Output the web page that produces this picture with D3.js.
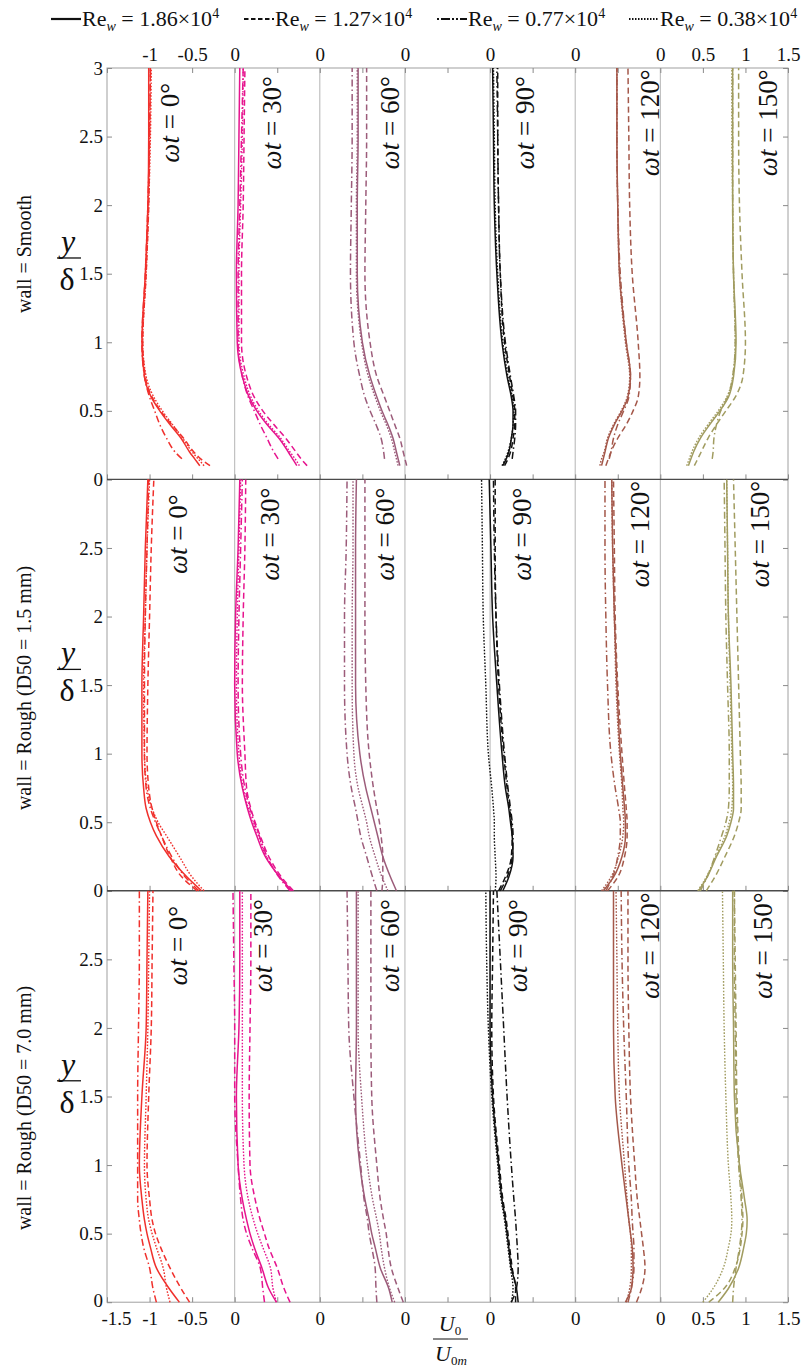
<!DOCTYPE html>
<html>
<head>
<meta charset="utf-8">
<script src="https://cdn.jsdelivr.net/npm/d3@7"></script>
<style>
  body { margin: 0; background: #fff; }
  svg text { font-family: "Liberation Serif", "Times New Roman", serif !important; fill: #111; }
</style>
</head>
<body>
<svg id="chart" width="810" height="1369"></svg>
<script>
// ---- categories ----
const phases = [0, 30, 60, 90, 120, 150];
const walls = ["wall = Smooth", "wall = Rough (D50 = 1.5 mm)", "wall = Rough (D50 = 7.0 mm)"];
const reynolds = ["1.86", "1.27", "0.77", "0.38"];
const phaseColors = ["#f0302c", "#e6148e", "#9c5c7a", "#111111", "#a4584a", "#a19c60"];

// ---- y/delta levels of the sampled profiles ----
const ySmooth = [0.1, 0.15, 0.2, 0.3, 0.4, 0.5, 0.6, 0.75, 1, 1.5, 2, 2.5, 3];
const yRough  = [0, 0.1, 0.25, 0.4, 0.5, 0.6, 0.75, 1, 1.5, 2, 2.5, 3];

// ---- U0/U0m profiles, series order: Re_w = 1.86, 1.27, 0.77, 0.38 (x10^4) ----
// smooth wall
const smooth_0 = [
  [-0.41,-0.47,-0.53,-0.63,-0.76,-0.88,-0.98,-1.06,-1.09,-1.05,-1.02,-1.01,-1.01],
  [-0.29,-0.40,-0.48,-0.60,-0.74,-0.87,-0.97,-1.05,-1.08,-1.04,-1.01,-1.00,-0.99],
  [null,-0.62,-0.70,-0.80,-0.88,-0.94,-1.00,-1.06,-1.09,-1.05,-1.02,-1.00,-0.99],
  [-0.36,-0.43,-0.50,-0.61,-0.73,-0.85,-0.95,-1.04,-1.08,-1.04,-1.01,-0.99,-0.98]];
const smooth_30 = [
  [-0.27,-0.32,-0.37,-0.48,-0.62,-0.74,-0.83,-0.91,-0.97,-0.98,-0.96,-0.95,-0.94],
  [-0.15,-0.22,-0.28,-0.40,-0.54,-0.67,-0.77,-0.86,-0.92,-0.92,-0.90,-0.89,-0.88],
  [null,-0.49,-0.54,-0.62,-0.70,-0.77,-0.84,-0.91,-0.96,-0.96,-0.94,-0.92,-0.90],
  [-0.24,-0.29,-0.35,-0.46,-0.60,-0.72,-0.81,-0.89,-0.95,-0.95,-0.93,-0.91,-0.90]];
const smooth_60 = [
  [-0.06,-0.08,-0.10,-0.14,-0.20,-0.27,-0.33,-0.41,-0.50,-0.56,-0.56,-0.55,-0.55],
  [0.02,0.00,-0.02,-0.06,-0.12,-0.18,-0.24,-0.33,-0.41,-0.47,-0.46,-0.45,-0.45],
  [null,-0.24,-0.25,-0.28,-0.34,-0.41,-0.47,-0.53,-0.60,-0.64,-0.63,-0.62,-0.62],
  [-0.08,-0.10,-0.12,-0.16,-0.22,-0.29,-0.35,-0.43,-0.51,-0.57,-0.57,-0.56,-0.56]];
const smooth_90 = [
  [0.15,0.19,0.22,0.25,0.27,0.27,0.25,0.20,0.14,0.08,0.05,0.04,0.03],
  [0.17,0.21,0.24,0.27,0.29,0.29,0.27,0.23,0.17,0.12,0.10,0.09,0.09],
  [null,0.26,0.27,0.29,0.30,0.30,0.28,0.24,0.18,0.12,0.10,0.09,0.08],
  [0.14,0.18,0.21,0.25,0.27,0.28,0.26,0.21,0.15,0.09,0.06,0.05,0.04]];
const smooth_120 = [
  [0.31,0.33,0.35,0.39,0.46,0.55,0.62,0.65,0.60,0.52,0.50,0.49,0.49],
  [0.36,0.39,0.42,0.50,0.60,0.68,0.74,0.76,0.74,0.67,0.64,0.63,0.62],
  [null,0.40,0.42,0.45,0.50,0.57,0.63,0.65,0.60,0.53,0.50,0.49,0.49],
  [0.29,0.31,0.34,0.38,0.45,0.54,0.61,0.64,0.59,0.52,0.50,0.49,0.49]];
const smooth_150 = [
  [0.33,0.36,0.39,0.47,0.58,0.70,0.80,0.86,0.89,0.86,0.85,0.85,0.85],
  [0.40,0.44,0.48,0.56,0.66,0.77,0.88,0.97,1.00,0.96,0.93,0.92,0.92],
  [null,0.61,0.62,0.63,0.66,0.71,0.79,0.85,0.88,0.86,0.85,0.85,0.85],
  [0.31,0.34,0.37,0.45,0.56,0.68,0.78,0.85,0.88,0.86,0.85,0.84,0.84]];

// rough wall, D50 = 1.5 mm
const rough15_0 = [
  [-0.39,-0.56,-0.77,-0.92,-0.99,-1.04,-1.07,-1.09,-1.09,-1.07,-1.05,-1.02],
  [-0.44,-0.62,-0.76,-0.86,-0.92,-0.97,-1.01,-1.03,-1.02,-1.00,-0.98,-0.95],
  [-0.42,-0.58,-0.74,-0.86,-0.93,-0.99,-1.04,-1.06,-1.06,-1.05,-1.03,-1.01],
  [-0.36,-0.50,-0.65,-0.80,-0.90,-0.97,-1.03,-1.06,-1.07,-1.05,-1.03,-1.00]];
const rough15_30 = [
  [-0.33,-0.47,-0.64,-0.74,-0.80,-0.85,-0.91,-0.97,-1.00,-0.99,-0.96,-0.94],
  [-0.31,-0.45,-0.60,-0.70,-0.76,-0.81,-0.86,-0.88,-0.91,-0.90,-0.88,-0.87],
  [-0.35,-0.48,-0.62,-0.71,-0.77,-0.82,-0.88,-0.93,-0.96,-0.95,-0.93,-0.91],
  [-0.34,-0.47,-0.63,-0.72,-0.79,-0.84,-0.90,-0.95,-0.98,-0.97,-0.95,-0.93]];
const rough15_60 = [
  [-0.10,-0.17,-0.26,-0.32,-0.36,-0.40,-0.46,-0.53,-0.58,-0.58,-0.58,-0.57],
  [-0.27,-0.26,-0.26,-0.28,-0.30,-0.33,-0.37,-0.42,-0.46,-0.47,-0.47,-0.47],
  [-0.33,-0.38,-0.45,-0.52,-0.55,-0.58,-0.63,-0.68,-0.71,-0.71,-0.69,-0.68],
  [-0.20,-0.27,-0.35,-0.42,-0.45,-0.49,-0.55,-0.60,-0.62,-0.62,-0.61,-0.61]];
const rough15_90 = [
  [0.15,0.22,0.27,0.26,0.24,0.22,0.18,0.14,0.08,0.03,0.01,-0.01],
  [0.10,0.18,0.25,0.26,0.25,0.23,0.20,0.16,0.10,0.07,0.06,0.06],
  [0.12,0.20,0.26,0.27,0.26,0.24,0.21,0.17,0.11,0.07,0.05,0.04],
  [0.06,0.07,0.06,0.05,0.05,0.04,0.02,-0.02,-0.05,-0.08,-0.09,-0.10]];
const rough15_120 = [
  [0.33,0.45,0.55,0.59,0.59,0.58,0.56,0.53,0.49,0.46,0.44,0.43],
  [0.38,0.50,0.58,0.61,0.61,0.60,0.58,0.55,0.50,0.47,0.46,0.45],
  [0.36,0.44,0.50,0.53,0.53,0.51,0.47,0.42,0.38,0.36,0.35,0.35],
  [0.31,0.42,0.51,0.56,0.57,0.56,0.55,0.52,0.48,0.46,0.44,0.43]];
const rough15_150 = [
  [0.45,0.55,0.66,0.78,0.83,0.86,0.86,0.85,0.83,0.80,0.79,0.78],
  [0.54,0.64,0.76,0.87,0.92,0.95,0.95,0.94,0.92,0.90,0.88,0.86],
  [0.47,0.55,0.64,0.72,0.77,0.80,0.81,0.81,0.79,0.77,0.76,0.75],
  [0.44,0.54,0.65,0.76,0.81,0.84,0.85,0.84,0.82,0.80,0.79,0.78]];

// rough wall, D50 = 7.0 mm
const rough70_0 = [
  [-0.65,-0.77,-0.92,-0.99,-1.03,-1.06,-1.09,-1.12,-1.09,-1.04,-1.03,-1.02],
  [-0.53,-0.63,-0.76,-0.87,-0.93,-0.97,-1.00,-1.03,-1.01,-0.98,-0.97,-0.96],
  [-0.92,-0.96,-1.00,-1.07,-1.10,-1.12,-1.14,-1.14,-1.14,-1.13,-1.12,-1.12],
  [-0.76,-0.80,-0.84,-0.92,-0.97,-1.01,-1.04,-1.06,-1.04,-1.02,-1.01,-1.00]];
const rough70_30 = [
  [-0.51,-0.60,-0.68,-0.77,-0.82,-0.86,-0.91,-0.96,-0.98,-0.95,-0.94,-0.94],
  [-0.35,-0.42,-0.50,-0.60,-0.65,-0.70,-0.76,-0.82,-0.83,-0.82,-0.81,-0.81],
  [-0.65,-0.67,-0.70,-0.80,-0.86,-0.90,-0.93,-0.96,-1.00,-1.00,-1.01,-1.02],
  [-0.51,-0.55,-0.58,-0.67,-0.73,-0.78,-0.84,-0.89,-0.91,-0.91,-0.91,-0.91]];
const rough70_60 = [
  [-0.15,-0.19,-0.29,-0.35,-0.39,-0.42,-0.47,-0.53,-0.58,-0.57,-0.57,-0.57],
  [-0.02,-0.08,-0.16,-0.20,-0.22,-0.25,-0.29,-0.33,-0.39,-0.40,-0.40,-0.40],
  [-0.33,-0.34,-0.35,-0.39,-0.42,-0.44,-0.48,-0.52,-0.60,-0.66,-0.67,-0.68],
  [-0.12,-0.18,-0.24,-0.28,-0.30,-0.33,-0.38,-0.44,-0.51,-0.55,-0.55,-0.55]];
const rough70_90 = [
  [0.33,0.31,0.25,0.22,0.20,0.18,0.14,0.10,0.03,0.00,0.00,0.00],
  [0.30,0.30,0.26,0.23,0.21,0.19,0.15,0.11,0.04,0.02,0.03,0.04],
  [0.25,0.31,0.33,0.32,0.31,0.30,0.28,0.25,0.20,0.16,0.12,0.08],
  [0.25,0.27,0.24,0.21,0.19,0.17,0.13,0.09,0.02,-0.02,-0.04,-0.05]];
const rough70_120 = [
  [0.59,0.66,0.68,0.67,0.65,0.63,0.60,0.55,0.47,0.45,0.45,0.45],
  [0.72,0.78,0.82,0.80,0.78,0.76,0.73,0.70,0.65,0.63,0.62,0.62],
  [0.62,0.66,0.69,0.69,0.68,0.67,0.66,0.63,0.60,0.57,0.55,0.54],
  [0.60,0.64,0.66,0.66,0.65,0.63,0.61,0.58,0.52,0.50,0.49,0.48]];
const rough70_150 = [
  [0.68,0.80,0.92,0.98,1.01,1.02,0.99,0.93,0.87,0.86,0.85,0.85],
  [0.57,0.75,0.88,0.94,0.96,0.97,0.96,0.93,0.90,0.89,0.88,0.87],
  [0.85,0.86,0.89,0.93,0.95,0.96,0.95,0.92,0.89,0.88,0.87,0.87],
  [0.50,0.62,0.74,0.80,0.83,0.84,0.83,0.80,0.77,0.75,0.74,0.73]];

const rowProfiles = [
  [smooth_0, smooth_30, smooth_60, smooth_90, smooth_120, smooth_150],
  [rough15_0, rough15_30, rough15_60, rough15_90, rough15_120, rough15_150],
  [rough70_0, rough70_30, rough70_60, rough70_90, rough70_120, rough70_150]];
const rowLevels = [ySmooth, yRough, yRough];

// ---- tick values (global x: each phase panel is shifted by one unit) ----
const xTicks = d3.range(-1.5, 6.51, 0.5);
const xTickText = {"-1.5": "-1.5", "-1": "-1", "-0.5": "-0.5", "0": "0", "1": "0", "2": "0",
                   "3": "0", "4": "0", "5": "0", "5.5": "0.5", "6": "1", "6.5": "1.5"};
const yTicks = [0, 0.5, 1, 1.5, 2, 2.5, 3];

// ---- layout ----
const svg = d3.select("#chart");
const plotLeft = 107, plotRight = 788, plotTop = 68, rowH = 411.4;
const plotBottom = plotTop + rowH * 3;
const x = d3.scaleLinear().domain([-1.5, 6.5]).range([plotLeft, plotRight]);
const yRow = [0, 1, 2].map(r => d3.scaleLinear().domain([0, 3])
  .range([plotTop + rowH * (r + 1), plotTop + rowH * r]));

const dashes = [null, "6,3.5", "7,3,1.5,3", "1.6,1.6"];
// label anchors: offset from the panel's zero (in U0/U0m units) and y/delta
const labelOffsets = [
  [-0.76, -0.56, -0.18, 0.41, 0.88, 1.27],
  [-0.67, -0.585, -0.23, 0.375, 0.76, 1.17],
  [-0.67, -0.67, -0.18, 0.33, 0.88, 1.21]];
const labelY = 2.6;

// panel zero lines
svg.append("g").selectAll("line").data(d3.range(0, 6)).join("line")
  .attr("x1", d => x(d)).attr("x2", d => x(d))
  .attr("y1", plotTop).attr("y2", plotBottom)
  .attr("stroke", "#b4b4b4").attr("stroke-width", 1);

// frame
svg.append("rect").attr("x", plotLeft).attr("y", plotTop)
  .attr("width", plotRight - plotLeft).attr("height", plotBottom - plotTop)
  .attr("fill", "none").attr("stroke", "#a0a0a0").attr("stroke-width", 1);

// axes per row
function styleAxis(g) {
  g.attr("font-family", null).attr("font-size", null);
  g.select(".domain").remove();
  g.selectAll(".tick line").attr("stroke", "#8a8a8a");
  g.selectAll(".tick text").style("font-size", "19px").attr("fill", "#111");
}
yRow.forEach((y, r) => {
  const ly = svg.append("g").attr("transform", `translate(${plotLeft},0)`)
    .call(d3.axisLeft(y).tickValues(yTicks).tickSize(-5).tickPadding(4)
      .tickFormat(v => (r > 0 && v === 3) ? "" : d3.format("~g")(v)))
    .call(styleAxis);
  if (r === 2) ly.selectAll(".tick text").filter(v => v === 0).attr("dy", "0.2em");
  svg.append("g").attr("transform", `translate(${plotRight},0)`)
    .call(d3.axisRight(y).tickValues(yTicks).tickSize(-5).tickFormat(""))
    .call(styleAxis);
  const bx = svg.append("g").attr("transform", `translate(0,${y(0)})`)
    .call(d3.axisBottom(x).tickValues(xTicks).tickSize(-5).tickPadding(9)
      .tickFormat(v => r === 2 ? (xTickText[String(v)] || "") : ""))
    .call(styleAxis);
  // keep the first bottom label clear of the y-axis "0"
  bx.selectAll(".tick text").filter(v => v === -1.5).attr("dx", 9);
});
svg.append("g").attr("transform", `translate(0,${plotTop})`)
  .call(d3.axisTop(x).tickValues(xTicks).tickSize(-5).tickPadding(7)
    .tickFormat(v => v === -1.5 ? "" : (xTickText[String(v)] || "")))
  .call(styleAxis);

// row separators
svg.append("g").selectAll("line").data([1, 2]).join("line")
  .attr("x1", plotLeft).attr("x2", plotRight)
  .attr("y1", r => plotTop + rowH * r).attr("y2", r => plotTop + rowH * r)
  .attr("stroke", "#4a4a4a").attr("stroke-width", 1.4);

// profiles
rowProfiles.forEach((panels, r) => {
  const levels = rowLevels[r];
  const line = d3.line()
    .defined(d => d.v != null)
    .x(d => x(d.v + d.k))
    .y(d => yRow[r](d.y))
    .curve(d3.curveMonotoneY);
  panels.forEach((series, k) => {
    const g = svg.append("g");
    series.forEach((vals, s) => {
      const pts = vals.map((v, i) => ({v, k, y: levels[i]}));
      g.append("path").attr("d", line(pts))
        .attr("fill", "none")
        .attr("stroke", phaseColors[k])
        .attr("stroke-width", s === 3 ? 1.4 : 1.5)
        .attr("stroke-dasharray", dashes[s]);
    });
    // phase label
    const lx = x(k + labelOffsets[r][k]), ly = yRow[r](labelY);
    const t = svg.append("text")
      .attr("transform", `translate(${lx},${ly}) rotate(-90)`)
      .attr("text-anchor", "middle").attr("dominant-baseline", "central")
      .style("font-size", "27px");
    t.append("tspan").style("font-style", "italic").text("ωt");
    t.append("tspan").text(` = ${phases[k]}°`);
  });
});

// row titles
const titleY = [254, 688, 1108];
walls.forEach((w, r) => {
  svg.append("text")
    .attr("transform", `translate(24,${titleY[r]}) rotate(-90)`)
    .attr("text-anchor", "middle").attr("dominant-baseline", "central")
    .style("font-size", "20px").text(w);
});

// y/delta labels
yRow.forEach(y => {
  const cy = y(1.6) - 2;
  const g = svg.append("g");
  g.append("text").attr("x", 68).attr("y", cy - 6).attr("text-anchor", "middle")
    .style("font-size", "32px").style("font-style", "italic").text("y");
  g.append("line").attr("x1", 57).attr("x2", 81).attr("y1", cy).attr("y2", cy)
    .attr("stroke", "#111").attr("stroke-width", 1.3);
  g.append("text").attr("x", 67).attr("y", cy + 32).attr("text-anchor", "middle")
    .style("font-size", "32px").text("δ");
});

// x-axis label U0 / U0m
{
  const g = svg.append("g");
  const num = g.append("text").attr("x", 450).attr("y", 1331).attr("text-anchor", "middle").style("font-size", "22px");
  num.append("tspan").style("font-style", "italic").text("U");
  num.append("tspan").attr("dy", 4).style("font-size", "13px").text("0");
  g.append("line").attr("x1", 433).attr("x2", 468).attr("y1", 1339).attr("y2", 1339)
    .attr("stroke", "#111").attr("stroke-width", 1);
  const den = g.append("text").attr("x", 451).attr("y", 1361).attr("text-anchor", "middle").style("font-size", "22px");
  den.append("tspan").style("font-style", "italic").text("U");
  den.append("tspan").attr("dy", 4).style("font-size", "13px").text("0");
  den.append("tspan").style("font-size", "13px").style("font-style", "italic").text("m");
}

// legend
const legendX = [51, 244, 437, 629];
const legendDash = [null, "4.5,2.5", "2,2,9,2,2,2", "1.5,1.5"];
const legend = svg.append("g");
reynolds.forEach((re, i) => {
  const x0 = legendX[i];
  legend.append("line").attr("x1", x0).attr("x2", x0 + 30).attr("y1", 19).attr("y2", 19)
    .attr("stroke", "#111").attr("stroke-width", i === 0 ? 2.2 : 1.8)
    .attr("stroke-dasharray", legendDash[i]);
  const t = legend.append("text").attr("x", x0 + 31).attr("y", 26).style("font-size", "22px");
  t.append("tspan").text("Re");
  t.append("tspan").attr("dy", 5).style("font-size", "14px").style("font-style", "italic").text("w");
  t.append("tspan").attr("dy", -5).text(` = ${re}×10`);
  t.append("tspan").attr("dy", -8).style("font-size", "14px").text("4");
});
</script>
</body>
</html>
